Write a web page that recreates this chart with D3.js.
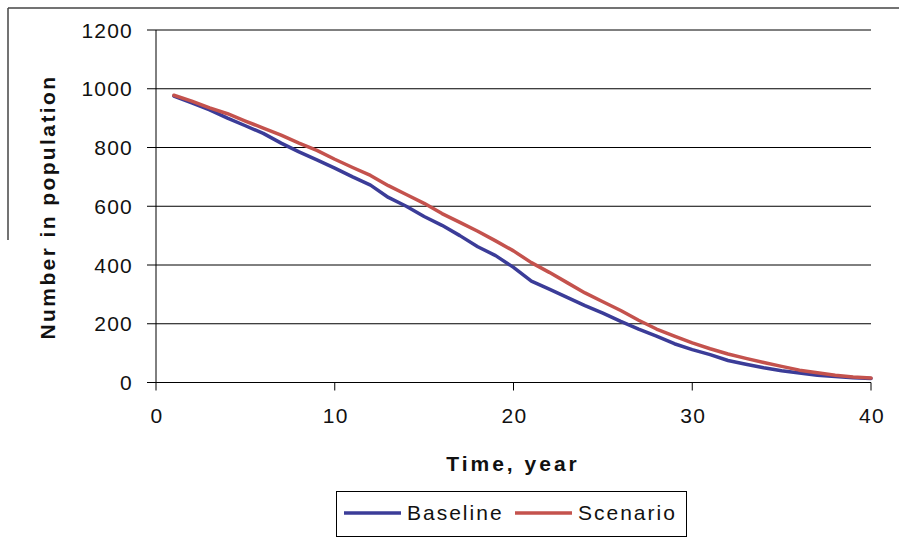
<!DOCTYPE html>
<html>
<head>
<meta charset="utf-8">
<script src="https://cdn.jsdelivr.net/npm/d3@7"></script>
<style>
  body { margin: 0; background: #fff; }
  text { font-family: "Liberation Sans", Arial, sans-serif; }
</style>
</head>
<body>
<div id="chart"></div>
<script>
// years 1..40
var years = d3.range(1, 41)
var baseline = [975, 952, 928, 900, 874, 848, 815, 785, 758, 730,
                700, 672, 630, 600, 565, 535, 500, 462, 432, 392,
                345, 318, 290, 262, 236, 208, 182, 158, 132, 112,
                95, 75, 62, 50, 40, 32, 25, 20, 16, 14]
var scenario = [978, 958, 935, 915, 890, 866, 842, 815, 790, 760,
                732, 705, 670, 640, 610, 575, 545, 515, 482, 448,
                408, 375, 340, 305, 275, 245, 212, 182, 158, 135,
                115, 97, 82, 68, 55, 42, 33, 25, 19, 15]
var xTicks = [0, 10, 20, 30, 40]
var yTicks = [0, 200, 400, 600, 800, 1000, 1200]
var seriesNames = ['Baseline', 'Scenario']
var seriesColors = ['#3b3c98', '#c4524d']

var width = 899, height = 540

var svg = d3.select('#chart').append('svg')
    .attr('width', width)
    .attr('height', height)

// outer frame (scanned, only top and part of left edge visible)
svg.append('line').attr('x1', 8).attr('x2', 899).attr('y1', 8).attr('y2', 8)
    .attr('stroke', '#444').attr('stroke-width', 1.5)
svg.append('line').attr('x1', 8).attr('x2', 8).attr('y1', 8).attr('y2', 240)
    .attr('stroke', '#444').attr('stroke-width', 1.5)

var x = d3.scaleLinear().domain([0, 40]).range([156, 871])
var y = d3.scaleLinear().domain([0, 1200]).range([382.5, 30])

// gridlines
svg.append('g').selectAll('line')
    .data(yTicks)
    .enter().append('line')
        .attr('x1', 147)
        .attr('x2', x(40))
        .attr('y1', function(d){ return y(d) })
        .attr('y2', function(d){ return y(d) })
        .attr('stroke', '#000')
        .attr('stroke-width', 1)

// y axis line
svg.append('line')
    .attr('x1', x(0)).attr('x2', x(0))
    .attr('y1', y(1200)).attr('y2', y(0))
    .attr('stroke', '#000')

// x ticks
svg.append('g').selectAll('line')
    .data(xTicks)
    .enter().append('line')
        .attr('x1', function(d){ return x(d) })
        .attr('x2', function(d){ return x(d) })
        .attr('y1', y(0))
        .attr('y2', y(0) + 8)
        .attr('stroke', '#000')

// y tick labels
svg.append('g').selectAll('text')
    .data(yTicks)
    .enter().append('text')
        .attr('x', 133)
        .attr('y', function(d){ return y(d) + 7.5 })
        .attr('text-anchor', 'end')
        .attr('font-size', '21px')
        .attr('letter-spacing', '1.2px')
        .attr('fill', '#111')
        .text(function(d){ return d })

// x tick labels
svg.append('g').selectAll('text')
    .data(xTicks)
    .enter().append('text')
        .attr('x', function(d){ return x(d) + 1 })
        .attr('y', 423)
        .attr('text-anchor', 'middle')
        .attr('font-size', '21px')
        .attr('letter-spacing', '1.2px')
        .attr('fill', '#111')
        .text(function(d){ return d })

// axis titles
svg.append('text')
    .attr('x', 513)
    .attr('y', 471)
    .attr('text-anchor', 'middle')
    .attr('font-size', '21px')
    .attr('font-weight', 'bold')
    .attr('letter-spacing', '3px')
    .attr('fill', '#111')
    .text('Time, year')

svg.append('text')
    .attr('transform', 'translate(55,207) rotate(-90)')
    .attr('text-anchor', 'middle')
    .attr('font-size', '21px')
    .attr('font-weight', 'bold')
    .attr('letter-spacing', '2.4px')
    .attr('fill', '#111')
    .text('Number in population')

// lines
var line = d3.line()
    .x(function(d){ return x(d[0]) })
    .y(function(d){ return y(d[1]) })

;[baseline, scenario].forEach(function(s, i){
    svg.append('path')
        .datum(years.map(function(t, j){ return [t, s[j]] }))
        .attr('d', line)
        .attr('fill', 'none')
        .attr('stroke', seriesColors[i])
        .attr('stroke-width', 3.5)
        .attr('stroke-linejoin', 'round')
        .attr('stroke-linecap', 'round')
})

// legend
var legend = svg.append('g')
legend.append('rect')
    .attr('x', 336.5).attr('y', 491.5)
    .attr('width', 350).attr('height', 45)
    .attr('fill', '#fff')
    .attr('stroke', '#000')

var legendX = [344, 515]
seriesNames.forEach(function(name, i){
    legend.append('line')
        .attr('x1', legendX[i]).attr('x2', legendX[i] + 57)
        .attr('y1', 513).attr('y2', 513)
        .attr('stroke', seriesColors[i])
        .attr('stroke-width', 3.5)
    legend.append('text')
        .attr('x', legendX[i] + 63)
        .attr('y', 520)
        .attr('font-size', '21px')
        .attr('letter-spacing', '2px')
        .attr('fill', '#111')
        .text(name)
})
</script>
</body>
</html>
